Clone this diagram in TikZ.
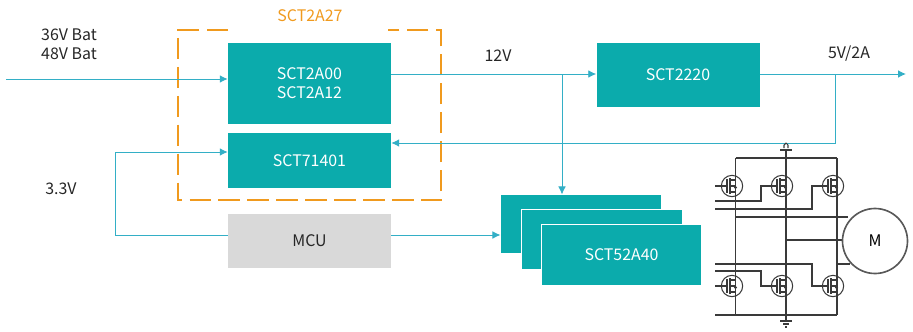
\documentclass[tikz,border=0pt]{standalone}
\usepackage{fontspec}
\setmainfont{Noto Sans CJK SC}
\usetikzlibrary{arrows.meta, positioning, calc}
\definecolor{cteal}{HTML}{0BABAC}
\definecolor{cline}{HTML}{33AFC6}
\definecolor{corange}{HTML}{F09A1E}
\definecolor{cgrey}{HTML}{D9D9D9}
\definecolor{cwire}{HTML}{3A3A3A}
\tikzset{
  bloque/.style={rectangle, fill=#1, minimum width=4.89cm, inner sep=0pt, align=center,
                 font=\fontsize{13.6}{16}\selectfont},
  tbloque/.style={bloque=cteal, text=white},
  apilado/.style={rectangle, fill=cteal, draw=white, line width=0.6pt, minimum width=4.81cm,
                  minimum height=#1, inner sep=0pt, font=\fontsize{13.6}{16}\selectfont, text=white},
  etiqueta/.style={align=center, inner sep=0pt, font=\fontsize{13.6}{16}\selectfont, text=black!85},
  flecha/.style={-{Latex[length=2.4mm,width=2.3mm]}, line width=0.8pt, draw=cline},
  cable/.style={line width=0.9pt, draw=cwire},
  mos/.pic={
    \draw[cable] (0,0) circle (0.32cm);
    \draw[cable] (-5,-7) -- (-5,7);
    \draw[cable] (-2,-8) -- (-2,8);
    \draw[cable] (-2,-6) -- (3.5,-6);
    \draw[cable] (-2,0) -- (3.5,0);
    \draw[cable] (-2,6) -- (3.5,6);
    \fill[cwire] (3.5,1.5) circle (0.05cm);
  },
}
\begin{document}
\begin{tikzpicture}[x=0.03cm, y=-0.03cm]
        \useasboundingbox (0,0) rectangle (913,332);
        % blocks
        \node[tbloque, minimum height=2.43cm] (dcdc) at (309.5,83.5) {SCT2A00\\SCT2A12};
        \node[tbloque, minimum height=1.65cm] (ldo) at (309.5,160.5) {SCT71401};
        \node[bloque=cgrey, text=black!85, minimum height=1.62cm] (mcu) at (309.5,241) {MCU};
        \node[tbloque, minimum height=1.92cm] (buck) at (678,75) {SCT2220};
        \node[apilado=1.75cm] (drvc) at (581,224) {};
        \node[apilado=1.78cm] (drvb) at (602,239.5) {};
        \node[apilado=1.81cm] (drva) at (621.5,255) {SCT52A40};
        % dashed frame
        \draw[corange, line width=2.2pt, dash pattern=on 18.3pt off 6.4pt]
          (228,30) -- (178,30) -- (178,200) -- (441,200) -- (441,30) -- (388,30);
        \node[etiqueta, text=corange] (marco) at (310,16) {SCT2A27};
        % labels
        \node[etiqueta] (bat) at (69,44) {36V Bat\\48V Bat};
        \node[etiqueta] (tres) at (61,189) {3.3V};
        \node[etiqueta] (doce) at (498,56) {12V};
        \node[etiqueta] (cinco) at (849,54) {5V/2A};
        % connectors
        \coordinate (ini) at (6,79);
        \coordinate (fin) at (906,74);
        \coordinate (rama) at (562,74);
        \coordinate (rama2) at (835.5,74);
        \coordinate (codo) at (115,152);
        \coordinate (sale) at (391,235);
        \draw[flecha] (ini) -- (ini -| dcdc.west);
        \draw[flecha] (dcdc.east |- rama) -- (buck.west |- rama);
        \draw[flecha] (rama) -- (rama |- drvc.north);
        \draw[flecha] (buck.east |- fin) -- (fin);
        \draw[flecha] (rama2) -- ++(0,69) -- (ldo.east |- 0,143);
        \draw[flecha, -] (mcu.west |- sale) -| (codo);
        \draw[flecha] (codo) -- (ldo.west |- codo);
        \draw[flecha] (sale) -- (drvc.west |- sale);
        % bridge
        \begin{scope}[cable]
          \draw (735.5,158) -- (837,158);
          \draw (715,315) -- (837,315);
          \foreach \x in {735.5,786,837} \draw (\x,158) -- (\x,315);
          \draw (735.5,217) -- (848,217);
          \draw (786,240) -- (843,240);
          \draw (837,264) -- (850,264);
          \draw (715,201) -- (761,201) -- (761,186) -- (777,186);
          \draw (715,209) -- (812,209) -- (812,186) -- (828,186);
          \draw (715,264) -- (812,264) -- (812,286) -- (828,286);
          \draw (715,271) -- (761,271) -- (761,286) -- (777,286);
          \draw (715,186) -- (727,186);
          \draw (715,286) -- (727,286);
          \draw (786,158) -- (786,150) (780,150) -- (792,150);
          \draw (784,148) -- (784,145) -- (786,143) -- (788,145) -- (788,148);
          \draw (786,315) -- (786,321) (780,321) -- (792,321) (783,324) -- (789,324) (785,327) -- (787,327);
        \end{scope}
        \foreach \x in {732,782,833} {
          \pic at (\x,186) {mos};
          \pic at (\x,286) {mos};
        }
        \node[circle, draw=black!65, line width=1.4pt, fill=white, minimum size=1.95cm, inner sep=0pt,
              font=\fontsize{13.6}{16}\selectfont] (motor) at (875,241) {M};
    \end{tikzpicture}
\end{document}
